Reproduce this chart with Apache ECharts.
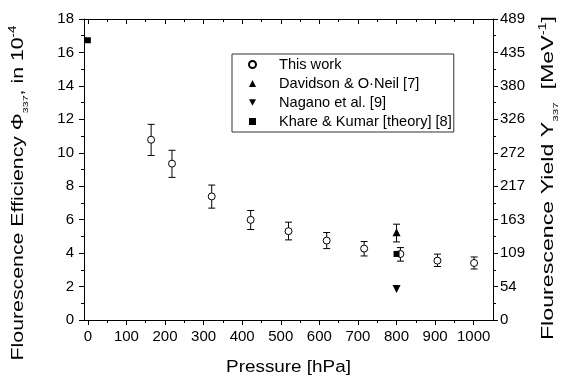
<!DOCTYPE html>
<html>
<head>
<meta charset="utf-8">
<script src="https://cdn.jsdelivr.net/npm/echarts@6/dist/echarts.min.js"></script>
<style>html,body{margin:0;padding:0;background:#fff;}#chart{width:565px;height:376px;}</style>
</head>
<body>
<div id="chart"></div>
<script>
// ---- data ----
const thisWorkPressure = [164, 218, 321, 422, 520, 619, 716, 810, 906, 1001];
const thisWorkEff      = [10.78, 9.35, 7.39, 5.99, 5.31, 4.75, 4.27, 3.95, 3.55, 3.41];
const thisWorkLow      = [9.84, 8.53, 6.69, 5.41, 4.79, 4.27, 3.83, 3.52, 3.20, 3.05];
const thisWorkHigh     = [11.70, 10.15, 8.07, 6.55, 5.85, 5.23, 4.69, 4.33, 3.94, 3.77];
const davidsonPressure = [800];
const davidsonEff      = [5.25];
const davidsonLow      = [4.67];
const davidsonHigh     = [5.73];
const naganoPressure   = [800];
const naganoEff        = [1.86];
const kharePressure    = [0, 800];
const khareEff         = [16.73, 3.95];
const xMajorTicks = [0, 100, 200, 300, 400, 500, 600, 700, 800, 900, 1000];
const xMinorTicks = [50, 150, 250, 350, 450, 550, 650, 750, 850, 950];
const yieldLabels = ['0', '54', '109', '163', '217', '272', '326', '380', '435', '489'];
const seriesNames = ['This work', 'Davidson & O·Neil [7]', 'Nagano et al. [9]', 'Khare & Kumar [theory] [8]'];

const zip = (a, b) => a.map((v, i) => [v, b[i]]);
const zip3 = (a, b, c) => a.map((v, i) => [v, b[i], c[i]]);

const FONT = 'Liberation Sans, Arial, Helvetica, sans-serif';
const downTri = 'path://M0,0 L10,0 L5,9 Z';

function errRender(params, api) {
  const x = api.value(0), lo = api.value(1), hi = api.value(2);
  const a = api.coord([x, lo]), b = api.coord([x, hi]);
  const w = 3.5;
  const st = { stroke: '#000', lineWidth: 1 };
  return {
    type: 'group',
    children: [
      { type: 'line', shape: { x1: a[0], y1: a[1], x2: b[0], y2: b[1] }, style: st },
      { type: 'line', shape: { x1: a[0] - w, y1: a[1], x2: a[0] + w, y2: a[1] }, style: st },
      { type: 'line', shape: { x1: b[0] - w, y1: b[1], x2: b[0] + w, y2: b[1] }, style: st }
    ]
  };
}

const xBase = { type: 'value', min: -10, max: 1050, gridIndex: 0, splitLine: { show: false } };
const lineStyle = { color: '#000', width: 1 };
const richTitle = {
  n: { fontSize: 16, fontFamily: FONT, fill: '#000', lineHeight: 22, verticalAlign: 'middle' },
  s: { fontSize: 8, fontFamily: FONT, fill: '#000', lineHeight: 8, verticalAlign: 'bottom' },
  p: { fontSize: 10, fontFamily: FONT, fill: '#000', lineHeight: 10, verticalAlign: 'top' }
};

const option = {
  animation: false,
  backgroundColor: '#fff',
  grid: { left: 84, right: 72, top: 19, bottom: 56, outerBoundsMode: 'none', containLabel: false },
  xAxis: [
    Object.assign({}, xBase, {
      position: 'bottom',
      axisLine: { show: true, onZero: false, lineStyle },
      axisTick: { show: true, inside: false, length: 5, lineStyle, customValues: xMajorTicks },
      axisLabel: { show: true, customValues: xMajorTicks, fontSize: 15, color: '#000', fontFamily: FONT, margin: 9,
                   formatter: (v) => String(v) }
    }),
    Object.assign({}, xBase, {
      position: 'bottom',
      axisLine: { show: false, onZero: false },
      axisTick: { show: true, inside: false, length: 3, lineStyle, customValues: xMinorTicks },
      axisLabel: { show: false }
    }),
    Object.assign({}, xBase, {
      position: 'top',
      axisLine: { show: true, onZero: false, lineStyle },
      axisTick: { show: true, inside: true, length: 5, lineStyle, customValues: xMajorTicks },
      axisLabel: { show: false }
    }),
    Object.assign({}, xBase, {
      position: 'top',
      axisLine: { show: false, onZero: false },
      axisTick: { show: true, inside: true, length: 3, lineStyle, customValues: xMinorTicks },
      axisLabel: { show: false }
    })
  ],
  yAxis: [
    {
      type: 'value', min: 0, max: 18, interval: 2, position: 'left',
      axisLine: { show: true, onZero: false, lineStyle },
      axisTick: { show: true, inside: false, length: 5, lineStyle },
      minorTick: { show: true, splitNumber: 2, length: 3, lineStyle },
      axisLabel: { fontSize: 15, color: '#000', fontFamily: FONT, margin: 10 },
      splitLine: { show: false }
    },
    {
      type: 'value', min: 0, max: 18, interval: 2, position: 'right',
      axisLine: { show: true, onZero: false, lineStyle },
      axisTick: { show: true, inside: false, length: 5, lineStyle },
      minorTick: { show: true, splitNumber: 2, length: 3, lineStyle },
      axisLabel: {
        fontSize: 15, color: '#000', fontFamily: FONT, margin: 7,
        formatter: (v) => yieldLabels[Math.round(v / 2)]
      },
      splitLine: { show: false }
    }
  ],
  legend: {
    orient: 'vertical',
    left: 232, top: 54,
    padding: [3, 2, 3, 16],
    itemGap: 4,
    itemWidth: 7, itemHeight: 7,
    borderColor: '#333', borderWidth: 1,
    backgroundColor: '#fff',
    textStyle: { fontSize: 14.6, color: '#000', fontFamily: FONT, lineHeight: 14.5, padding: [0, 0, 0, 18] },
    data: [
      { name: seriesNames[0], icon: 'circle' },
      { name: seriesNames[1], icon: 'triangle' },
      { name: seriesNames[2], icon: downTri },
      { name: seriesNames[3], icon: 'rect' }
    ],
    selectedMode: false
  },
  graphic: [
    {
      type: 'text', x: 288.5, y: 368, scaleX: 1.18,
      style: {
        text: 'Pressure [hPa]', fontSize: 16, fontFamily: FONT, fill: '#000',
        textAlign: 'center', textVerticalAlign: 'middle'
      }
    },
    {
      type: 'text', x: 19, y: 193, rotation: Math.PI / 2, scaleX: 1.33,
      style: {
        text: '{n|Flourescence Efficiency Φ}{s|337}{n|, in 10}{p|-4}',
        textAlign: 'center', textVerticalAlign: 'middle', rich: richTitle
      }
    },
    {
      type: 'text', x: 549, y: 178, rotation: Math.PI / 2, scaleX: 1.45,
      style: {
        text: '{n|Flourescence Yield Y}{s|337}{n|  [MeV}{p|-1}{n|]}',
        textAlign: 'center', textVerticalAlign: 'middle', rich: richTitle
      }
    }
  ],
  series: [
    {
      name: 'errThis', type: 'custom', renderItem: errRender, z: 1,
      xAxisIndex: 0, yAxisIndex: 0, encode: { x: 0, y: [1, 2] },
      data: zip3(thisWorkPressure, thisWorkLow, thisWorkHigh), silent: true
    },
    {
      name: 'errDavidson', type: 'custom', renderItem: errRender, z: 1,
      xAxisIndex: 0, yAxisIndex: 0, encode: { x: 0, y: [1, 2] },
      data: zip3(davidsonPressure, davidsonLow, davidsonHigh), silent: true
    },
    {
      name: seriesNames[0], type: 'scatter', z: 3, symbol: 'circle', symbolSize: 7,
      itemStyle: { color: '#fff', borderColor: '#000', borderWidth: 1, opacity: 1 },
      data: zip(thisWorkPressure, thisWorkEff)
    },
    {
      name: seriesNames[1], type: 'scatter', z: 3, symbol: 'triangle', symbolSize: 8,
      itemStyle: { color: '#000', borderColor: '#000', borderWidth: 0, opacity: 1 },
      data: zip(davidsonPressure, davidsonEff)
    },
    {
      name: seriesNames[2], type: 'scatter', z: 3, symbol: downTri, symbolSize: 8,
      itemStyle: { color: '#000', borderColor: '#000', borderWidth: 0, opacity: 1 },
      data: zip(naganoPressure, naganoEff)
    },
    {
      name: seriesNames[3], type: 'scatter', z: 3, symbol: 'rect', symbolSize: 6,
      itemStyle: { color: '#000', borderColor: '#000', borderWidth: 0, opacity: 1 },
      data: zip(kharePressure, khareEff)
    }
  ]
};

const chart = echarts.init(document.getElementById('chart'), null, { renderer: 'canvas' });
chart.setOption(option);
</script>
</body>
</html>
